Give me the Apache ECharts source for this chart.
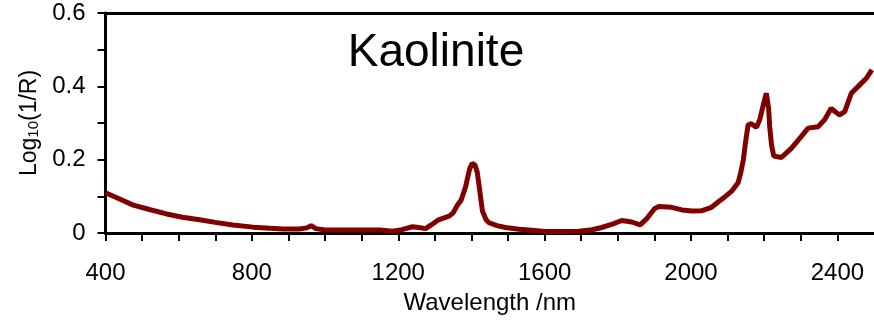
<!DOCTYPE html>
<html>
<head>
<meta charset="utf-8">
<script src="https://cdn.jsdelivr.net/npm/echarts@6/dist/echarts.min.js"></script>
<style>
    html, body { margin: 0; padding: 0; background: #fff; }
    #chart { width: 874px; height: 322px; }
</style>
</head>
<body>
<div id="chart"></div>
<script>
// wavelength (nm) and log10(1/R)
var wavelength = [400, 440, 476, 520, 567, 610, 657, 700, 748, 803, 850, 885, 930, 950, 962, 975,
    1000, 1050, 1100, 1150, 1184, 1210, 1239, 1255, 1275, 1293, 1310, 1339, 1350, 1361, 1372, 1384,
    1395, 1402, 1410, 1416, 1422, 1430, 1440, 1448, 1470, 1493, 1530, 1557, 1602, 1650, 1693, 1730,
    1756, 1785, 1811, 1838, 1861, 1880, 1900, 1911, 1947, 1975, 2002, 2030, 2056, 2075, 2093, 2112,
    2129, 2136, 2143, 2150, 2156, 2165, 2179, 2188, 2200, 2206, 2212, 2215, 2220, 2226, 2247, 2274,
    2301, 2320, 2347, 2365, 2383, 2395, 2406, 2420, 2438, 2461, 2479, 2494];
var logR = [0.110, 0.092, 0.076, 0.064, 0.052, 0.043, 0.036, 0.029, 0.022, 0.016, 0.013, 0.011, 0.011, 0.014, 0.020, 0.012,
    0.008, 0.008, 0.008, 0.008, 0.005, 0.009, 0.017, 0.015, 0.012, 0.024, 0.036, 0.046, 0.055, 0.075, 0.090, 0.126,
    0.175, 0.190, 0.185, 0.165, 0.120, 0.060, 0.036, 0.028, 0.020, 0.015, 0.010, 0.008, 0.004, 0.004, 0.005, 0.009,
    0.015, 0.024, 0.034, 0.030, 0.022, 0.040, 0.066, 0.072, 0.070, 0.063, 0.060, 0.061, 0.070, 0.085, 0.099, 0.115,
    0.138, 0.165, 0.200, 0.255, 0.295, 0.298, 0.288, 0.310, 0.360, 0.381, 0.340, 0.290, 0.240, 0.210, 0.206, 0.231,
    0.263, 0.286, 0.290, 0.309, 0.340, 0.330, 0.322, 0.331, 0.381, 0.404, 0.422, 0.445];

var font = 'Liberation Sans, Arial, sans-serif';
var points = wavelength.map(function (w, i) { return [w, logR[i]]; });

var chart = echarts.init(document.getElementById('chart'));
chart.setOption({
    animation: false,
    title: {
        text: 'Kaolinite',
        left: 431,
        top: 25,
        textAlign: 'center',
        textStyle: { fontFamily: font, fontSize: 46, fontWeight: 'normal', color: '#000' }
    },
    grid: { left: 105.5, right: 0, top: 13, bottom: 89, outerBoundsMode: 'none' },
    xAxis: [
        {
            type: 'value',
            min: 400,
            max: 2500,
            interval: 100,
            name: 'Wavelength /nm',
            nameLocation: 'middle',
            nameGap: 58,
            nameTextStyle: { fontFamily: font, fontSize: 24, color: '#000' },
            axisLine: { lineStyle: { color: '#000', width: 3 } },
            axisTick: { inside: false, length: 8, lineStyle: { color: '#000', width: 2 } },
            axisLabel: {
                margin: 28,
                fontFamily: font,
                fontSize: 24,
                color: '#000',
                showMaxLabel: false,
                formatter: function (v) { return v % 400 === 0 ? String(v) : ''; }
            },
            splitLine: { show: false }
        },
        {
            // top frame line
            type: 'value',
            position: 'top',
            min: 400,
            max: 2500,
            axisLine: { show: true, onZero: false, lineStyle: { color: '#000', width: 3 } },
            axisTick: { show: false },
            axisLabel: { show: false },
            splitLine: { show: false }
        }
    ],
    yAxis: {
        type: 'value',
        min: 0,
        max: 0.6,
        interval: 0.1,
        name: 'Log{sub|10}(1/R)',
        nameLocation: 'middle',
        nameGap: 63,
        nameRotate: 90,
        nameTextStyle: {
            fontFamily: font,
            fontSize: 23,
            color: '#000',
            rich: {
                sub: { fontFamily: font, fontSize: 15, color: '#000', verticalAlign: 'bottom', padding: [8, 0, 0, 0] }
            }
        },
        axisLine: { show: true, lineStyle: { color: '#000', width: 3 } },
        axisTick: { show: true, inside: false, length: 8, lineStyle: { color: '#000', width: 2 } },
        axisLabel: {
            margin: 20,
            fontFamily: font,
            fontSize: 24,
            color: '#000',
            formatter: function (v) {
                var k = Math.round(v * 10);
                if (k % 2 !== 0) return '';
                return k === 0 ? '0' : (k / 10).toFixed(1);
            }
        },
        splitLine: { show: false }
    },
    series: [
        {
            type: 'line',
            data: points,
            showSymbol: false,
            smooth: false,
            lineStyle: { color: '#800000', width: 5 },
            clip: false
        }
    ]
});
</script>
</body>
</html>
